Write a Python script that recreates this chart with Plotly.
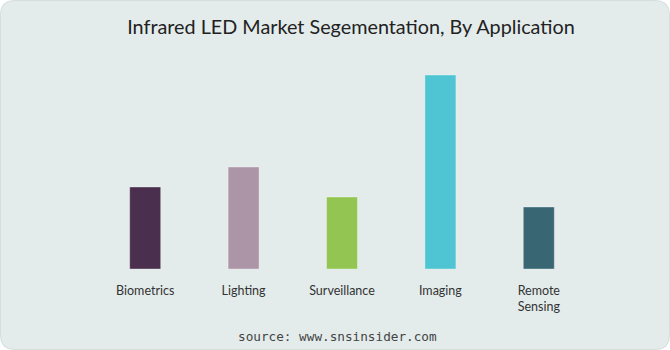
import plotly.graph_objects as go

categories = ["Biometrics", "Lighting", "Surveillance", "Imaging", "Remote Sensing"]
tick_labels = ["Biometrics", "Lighting", "Surveillance", "Imaging", "Remote<br>Sensing"]
values = [82, 102, 72, 194, 62]
colors = ["#4a2f4f", "#ad95a8", "#92c552", "#4fc5d3", "#386773"]

W, H = 670, 350
ML, MR, MT, MB = 96, 82, 69, 81
PW, PH = W - ML - MR, H - MT - MB
BG = "#e3eceb"

def fx(px):
    return (px - ML) / PW

def fy(py):
    return (H - MB - py) / PH

r = 14
x0, x1, y0, y1 = 0.5, W - 0.5, 0.5, H - 0.5
path = (
    f"M {fx(x0 + r)} {fy(y0)} L {fx(x1 - r)} {fy(y0)} "
    f"Q {fx(x1)} {fy(y0)} {fx(x1)} {fy(y0 + r)} "
    f"L {fx(x1)} {fy(y1 - r)} Q {fx(x1)} {fy(y1)} {fx(x1 - r)} {fy(y1)} "
    f"L {fx(x0 + r)} {fy(y1)} Q {fx(x0)} {fy(y1)} {fx(x0)} {fy(y1 - r)} "
    f"L {fx(x0)} {fy(y0 + r)} Q {fx(x0)} {fy(y0)} {fx(x0 + r)} {fy(y0)} Z"
)

fig = go.Figure(
    go.Bar(
        x=categories,
        y=values,
        width=0.315,
        marker=dict(color=colors, line=dict(color="rgba(255,255,255,0.35)", width=1)),
        hoverinfo="skip",
    )
)

fig.update_layout(
    width=W,
    height=H,
    margin=dict(l=ML, r=MR, t=MT, b=MB),
    paper_bgcolor="white",
    plot_bgcolor="rgba(0,0,0,0)",
    showlegend=False,
    title=dict(
        text="Infrared LED Market Segementation, By Application",
        x=351 / W,
        xanchor="center",
        y=1 - 27 / H,
        yanchor="middle",
        font=dict(family="Lato", size=19.8, color="#222222"),
    ),
    xaxis=dict(
        tickmode="array",
        tickvals=categories,
        ticktext=tick_labels,
        showgrid=False,
        zeroline=False,
        showline=False,
        ticks="outside",
        ticklen=10,
        tickcolor="rgba(0,0,0,0)",
        tickfont=dict(family="Lato", size=12.5, color="#333333"),
    ),
    yaxis=dict(range=[0, 200], visible=False),
    shapes=[
        dict(
            type="path",
            xref="paper",
            yref="paper",
            path=path,
            fillcolor=BG,
            line=dict(color="#d5dedc", width=1),
            layer="below",
        )
    ],
    annotations=[
        dict(
            text="source: www.snsinsider.com",
            xref="paper",
            yref="paper",
            x=fx(337),
            y=fy(336),
            xanchor="center",
            yanchor="middle",
            showarrow=False,
            font=dict(family="DejaVu Sans Mono", size=12.7, color="#444444"),
        )
    ],
)

fig.write_html("out.html")
